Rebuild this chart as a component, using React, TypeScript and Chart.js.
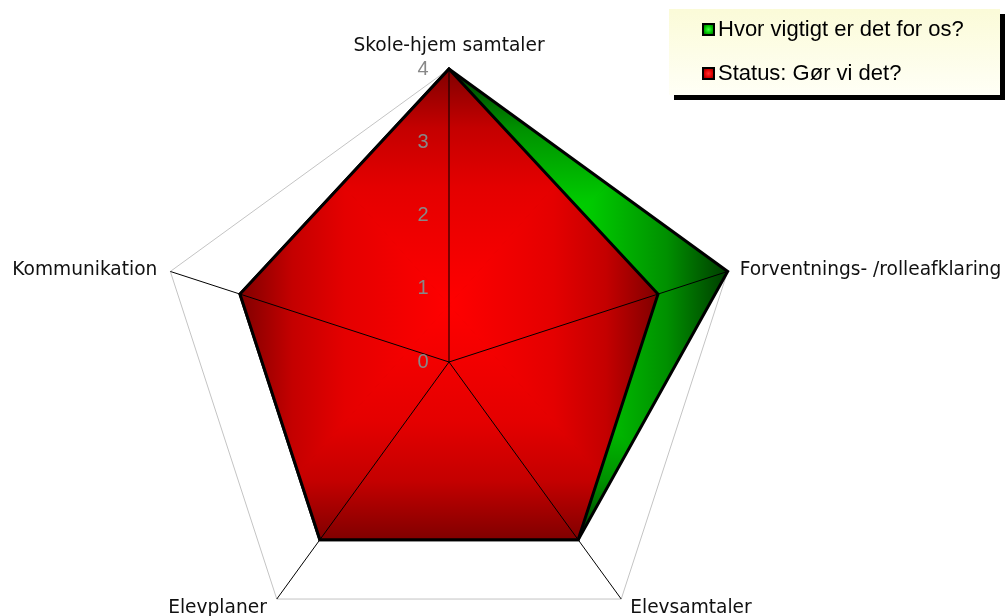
import React, { useEffect, useRef } from "react";
import { Chart, registerables } from "chart.js";

Chart.register(...registerables);

// ---- data ----
const CATEGORIES = [
  "Skole-hjem samtaler",
  "Forventnings- /rolleafklaring",
  "Elevsamtaler",
  "Elevplaner",
  "Kommunikation",
];
const SERIES_NAMES = ["Hvor vigtigt er det for os?", "Status: Gør vi det?"];
const IMPORTANCE = [4, 4, 3, 3, 3];
const STATUS = [4, 3, 3, 3, 3];
const SCALE_MIN = 0;
const SCALE_MAX = 4;
const SCALE_STEP = 1;

// ---- style ----
const GREEN_STOPS: [number, string][] = [
  [0, "#00ff00"],
  [0.45, "#00c800"],
  [0.75, "#009000"],
  [1, "#003c00"],
];
const RED_STOPS: [number, string][] = [
  [0, "#ff0000"],
  [0.5, "#e40000"],
  [0.75, "#c40000"],
  [1, "#800000"],
];
const SWATCHES = [
  "radial-gradient(circle, #44ff44 0%, #00c000 60%, #007000 100%)",
  "radial-gradient(circle, #ff3030 0%, #e00000 60%, #900000 100%)",
];

function pathGradient(chart: any, values: number[], stops: [number, string][]) {
  const scale = chart.scales.r;
  const pts = values.map((v, i) => scale.getPointPositionForValue(i, v));
  const xs = pts.map((p: any) => p.x);
  const ys = pts.map((p: any) => p.y);
  const x0 = Math.min(...xs), x1 = Math.max(...xs);
  const y0 = Math.min(...ys), y1 = Math.max(...ys);
  const cx = (x0 + x1) / 2, cy = (y0 + y1) / 2;
  const dpr = chart.currentDevicePixelRatio || 1;
  const W = chart.width, H = chart.height;
  const off = document.createElement("canvas");
  off.width = Math.round(W * dpr);
  off.height = Math.round(H * dpr);
  const c = off.getContext("2d")!;
  c.scale(dpr, dpr);
  c.fillStyle = stops[stops.length - 1][1];
  c.fillRect(0, 0, W, H);
  const tris: number[][][] = [
    [[x0, y0], [x1, y0], [cx, y0]],
    [[x1, y0], [x1, y1], [x1, cy]],
    [[x1, y1], [x0, y1], [cx, y1]],
    [[x0, y1], [x0, y0], [x0, cy]],
  ];
  for (const [a, b, e] of tris) {
    const g = c.createLinearGradient(cx, cy, e[0], e[1]);
    stops.forEach(([o, col]) => g.addColorStop(o, col));
    c.fillStyle = g;
    c.strokeStyle = g;
    c.lineWidth = 1;
    c.beginPath();
    c.moveTo(cx, cy);
    c.lineTo(a[0], a[1]);
    c.lineTo(b[0], b[1]);
    c.closePath();
    c.fill();
    c.stroke();
  }
  const pat: any = chart.ctx.createPattern(off, "no-repeat");
  if (dpr !== 1 && pat && pat.setTransform) {
    pat.setTransform(new DOMMatrix([1 / dpr, 0, 0, 1 / dpr, 0, 0]));
  }
  return pat;
}

function fillFor(stops: [number, string][]) {
  const cache: Record<string, any> = {};
  return (ctx: any) => {
    const chart = ctx.chart;
    const scale = chart.scales && chart.scales.r;
    if (!scale || !chart.chartArea) return stops[1][1];
    const data = ctx.dataset ? ctx.dataset.data : [];
    const key = [scale.xCenter, scale.yCenter, scale.drawingArea, chart.width, chart.height, data.join(",")].join("|");
    if (!cache[key]) cache[key] = pathGradient(chart, data, stops);
    return cache[key];
  };
}

const overlayPlugin = {
  id: "radarOverlay",
  afterDatasetsDraw(chart: any) {
    const scale = chart.scales.r;
    const ctx = chart.ctx as CanvasRenderingContext2D;
    const labels: string[] = chart.data.labels;
    const n = labels.length;
    ctx.save();

    // spokes drawn above the filled areas
    ctx.strokeStyle = "#000";
    ctx.lineWidth = 1;
    for (let i = 0; i < n; i++) {
      const p = scale.getPointPositionForValue(i, scale.max);
      ctx.beginPath();
      ctx.moveTo(scale.xCenter, scale.yCenter);
      ctx.lineTo(p.x, p.y);
      ctx.stroke();
    }

    // tick labels
    ctx.font = "20px 'Liberation Sans', Arial, sans-serif";
    ctx.fillStyle = "#888888";
    ctx.textAlign = "center";
    ctx.textBaseline = "middle";
    scale.ticks.forEach((t: any) => {
      const d = scale.getDistanceFromCenterForValue(t.value);
      ctx.fillText(String(t.label), scale.xCenter - 26, scale.yCenter - d);
    });

    // point labels
    ctx.font = "18.6px 'DejaVu Sans', Verdana, sans-serif";
    ctx.fillStyle = "#111";
    ctx.textBaseline = "alphabetic";
    for (let i = 0; i < n; i++) {
      const v = scale.getPointPositionForValue(i, scale.max);
      const a = scale.getIndexAngle(i);
      const s = Math.sin(a), c = Math.cos(a);
      let x = v.x, y = v.y;
      if (Math.abs(s) < 0.01) {
        ctx.textAlign = "center";
      } else if (s > 0) {
        ctx.textAlign = "left";
        x += c < -0.5 ? 9 : 12;
      } else {
        ctx.textAlign = "right";
        x -= c < -0.5 ? 10 : 13;
      }
      if (c > 0.9) y -= 18;
      else if (c < -0.5) y += 14;
      else y += 4;
      ctx.fillText(labels[i], x, y);
    }
    ctx.restore();
  },
};

export default function App() {
  const ref = useRef<HTMLCanvasElement | null>(null);

  useEffect(() => {
    if (!ref.current) return;
    const chart = new Chart(ref.current, {
      type: "radar",
      data: {
        labels: CATEGORIES,
        datasets: [
          {
            label: SERIES_NAMES[0],
            data: IMPORTANCE,
            order: 1,
            fill: "start",
            backgroundColor: fillFor(GREEN_STOPS),
            borderColor: "#000",
            borderWidth: 3,
            borderJoinStyle: "miter",
            pointRadius: 0,
            pointHoverRadius: 0,
          },
          {
            label: SERIES_NAMES[1],
            data: STATUS,
            order: 0,
            fill: "start",
            backgroundColor: fillFor(RED_STOPS),
            borderColor: "#000",
            borderWidth: 3,
            borderJoinStyle: "miter",
            pointRadius: 0,
            pointHoverRadius: 0,
          },
        ],
      },
      options: {
        animation: false,
        responsive: false,
        events: [],
        layout: { padding: 0 },
        plugins: {
          legend: { display: false },
          tooltip: { enabled: false },
        },
        scales: {
          r: {
            min: SCALE_MIN,
            max: SCALE_MAX,
            ticks: { stepSize: SCALE_STEP, display: false },
            pointLabels: { display: false },
            angleLines: { display: false },
            grid: {
              color: (c: any) => (c.tick && c.tick.value === SCALE_MAX ? "#c4c4c4" : "rgba(0,0,0,0)"),
              lineWidth: 1,
            },
            afterFit: (s: any) => {
              s.xCenter = 449;
              s.yCenter = 362;
              s.drawingArea = 293;
            },
          },
        },
      } as any,
      plugins: [overlayPlugin],
    });
    return () => chart.destroy();
  }, []);

  return (
    <div style={{ position: "fixed", left: 0, top: 0, width: 1005, height: 616, background: "#fff", overflow: "hidden" }}>
      <canvas ref={ref} width={1005} height={616} style={{ display: "block" }} />
      <div
        style={{
          position: "absolute",
          left: 669,
          top: 9,
          width: 331,
          height: 86,
          background: "linear-gradient(#fbfbd8, #fffff6)",
          boxShadow: "5px 5px 0 #000",
          fontFamily: "'Liberation Sans', Arial, sans-serif",
          fontSize: 22,
          color: "#000",
        }}
      >
        {SERIES_NAMES.map((name, i) => (
          <div
            key={name}
            style={{
              position: "absolute",
              left: 33,
              top: i === 0 ? 8 : 52,
              height: 24,
              display: "flex",
              alignItems: "center",
              whiteSpace: "nowrap",
            }}
          >
            <span
              style={{
                display: "inline-block",
                width: 9,
                height: 9,
                border: "2px solid #000",
                background: SWATCHES[i],
                marginRight: 3,
              }}
            />
            <span>{name}</span>
          </div>
        ))}
      </div>
    </div>
  );
}
